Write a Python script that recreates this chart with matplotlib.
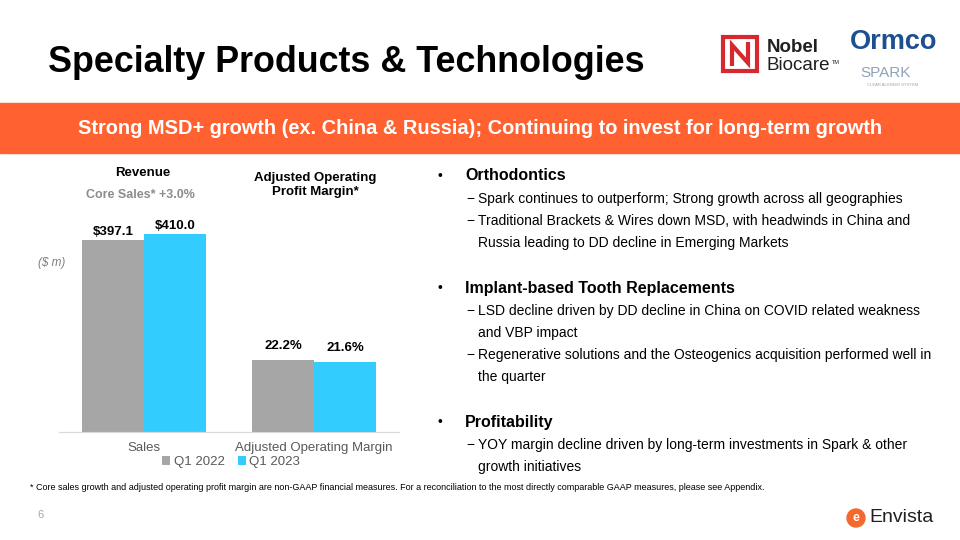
import matplotlib.pyplot as plt
from matplotlib.patches import Rectangle, Circle, Polygon

plt.rcParams['font.family'] = ['Liberation Sans', 'DejaVu Sans']

categories = ["Sales", "Adjusted Operating Margin"]
series_names = ["Q1 2022", "Q1 2023"]
q1_2022 = [397.1, 22.2]
q1_2023 = [410.0, 21.6]
value_labels_2022 = ["$397.1", "22.2%"]
value_labels_2023 = ["$410.0", "21.6%"]

bullets = [
    ("Orthodontics", [
        ["Spark continues to outperform; Strong growth across all geographies"],
        ["Traditional Brackets & Wires down MSD, with headwinds in China and",
         "Russia leading to DD decline in Emerging Markets"],
    ]),
    ("Implant-based Tooth Replacements", [
        ["LSD decline driven by DD decline in China on COVID related weakness",
         "and VBP impact"],
        ["Regenerative solutions and the Osteogenics acquisition performed well in",
         "the quarter"],
    ]),
    ("Profitability", [
        ["YOY margin decline driven by long-term investments in Spark & other",
         "growth initiatives"],
    ]),
]

GRAY = '#A6A6A6'
CYAN = '#33CCFF'
ORANGE = '#FF6131'
W, H = 960, 540


def px(x, y):
    return x / W, 1 - y / H


fig = plt.figure(figsize=(9.6, 5.4), dpi=100)
fig.patch.set_facecolor('white')

# title and banner
fig.text(*px(48, 63), "Specialty Products & Technologies", fontsize=25.8,
         fontweight='bold', va='center', ha='left')
fig.patches.append(Rectangle(px(0, 153), 1, 50 / H, transform=fig.transFigure,
                             color=ORANGE, zorder=0))
fig.text(*px(480, 129), "Strong MSD+ growth (ex. China & Russia); Continuing to invest for long-term growth",
         fontsize=14.4, fontweight='bold', color='white', ha='center', va='center')

# logos (rough)
nx, ny, ns = 723, 37, 34
fig.patches.append(Rectangle(px(nx, ny + ns), ns / W, ns / H, transform=fig.transFigure,
                             fill=False, edgecolor='#D7282F', linewidth=3))
fig.patches.append(Polygon([px(nx + 9, ny + ns - 5), px(nx + 9, ny + 8), px(nx + 25, ny + ns - 8),
                            px(nx + 25, ny + 5)], closed=False, fill=False,
                           edgecolor='#D7282F', linewidth=3, transform=fig.transFigure))
fig.text(*px(767, 48), "Nobel", fontsize=13.5, fontweight='bold', color='#231F20', va='center')
fig.text(*px(767, 65), "Biocare", fontsize=13.5, color='#231F20', va='center')
fig.text(*px(832, 62), "TM", fontsize=4, color='#231F20', va='center')
fig.text(*px(894, 42), "Ormco", fontsize=19.5, fontweight='bold', color='#1D4F91',
         ha='center', va='center')
fig.text(*px(886, 73), "SPARK", fontsize=11, color='#8FA3B8', ha='center', va='center')
fig.text(*px(893, 85), "CLEAR ALIGNER SYSTEM", fontsize=3, color='#8FA3B8', ha='center', va='center')

# chart
ax = fig.add_axes([59 / W, 108 / H, 340 / W, 212 / H])
ax2 = ax.twinx()
width = 0.365
xs = list(range(len(categories)))
pads = [1, 6]

# sales on left scale, margin on right scale
for axis, i in ((ax, 0), (ax2, 1)):
    b1 = axis.bar(xs[i] - width / 2, q1_2022[i], width, color=GRAY, label=series_names[0])
    b2 = axis.bar(xs[i] + width / 2, q1_2023[i], width, color=CYAN, label=series_names[1])
    axis.bar_label(b1, labels=[value_labels_2022[i]], padding=pads[i], fontsize=9.5, fontweight='bold')
    axis.bar_label(b2, labels=[value_labels_2023[i]], padding=pads[i], fontsize=9.5, fontweight='bold')
    if i == 0:
        handles = [b1, b2]

ax.set_ylim(0, 438)
ax2.set_ylim(0, 65.4)
ax.set_xlim(-0.5, 1.5)
for axis in (ax, ax2):
    for s in ('top', 'left', 'right'):
        axis.spines[s].set_visible(False)
    axis.spines['bottom'].set_color('#D9D9D9')
    axis.set_yticks([])
    axis.patch.set_visible(False)
ax.set_xticks(xs, categories, fontsize=9.5, color='#595959')
ax.tick_params(axis='x', length=0, pad=7)

fig.legend(handles, series_names, loc='center', bbox_to_anchor=px(231, 462), ncol=2,
           frameon=False, fontsize=9.5, handlelength=0.6, handleheight=0.6,
           handletextpad=0.3, columnspacing=1.0, labelcolor='#595959')

fig.text(*px(143, 173), "Revenue", fontsize=9.5, fontweight='bold', ha='center', va='center')
fig.text(*px(140, 195), "Core Sales* +3.0%", fontsize=9, fontweight='bold', color='#8C8C8C',
         ha='center', va='center')
fig.text(*px(315, 185), "Adjusted Operating\nProfit Margin*", fontsize=9.5, fontweight='bold',
         ha='center', va='center', linespacing=1.25)
fig.text(*px(52, 263), "($ m)", fontsize=8.5, style='italic', color='#7F7F7F',
         ha='center', va='center')

# bullets on right
y = 176
for head, subs in bullets:
    fig.text(*px(440, y), "•", fontsize=10, ha='center', va='center')
    fig.text(*px(465, y), head, fontsize=11.5, fontweight='bold', va='center')
    y += 23
    for sub in subs:
        fig.text(*px(466, y), "−", fontsize=10, va='center')
        for line in sub:
            fig.text(*px(478, y), line, fontsize=10, va='center')
            y += 22
    y += 23

fig.text(*px(30, 487), "* Core sales growth and adjusted operating profit margin are non-GAAP financial "
         "measures. For a reconciliation to the most directly comparable GAAP measures, please see Appendix.",
         fontsize=6.45, va='center')
fig.text(*px(40, 515), "6", fontsize=8, color='#A6A6A6', va='center', ha='center')

# Envista logo (rough)
fig.patches.append(Circle((8.56, 0.22), 0.09, transform=fig.dpi_scale_trans, color='#F26A2E'))
fig.text(*px(856, 518), "e", fontsize=9, color='white', fontweight='bold', ha='center', va='center')
fig.text(*px(869, 518), "Envista", fontsize=14, color='#231F20', va='center')

fig.savefig('out.png', dpi=100)
